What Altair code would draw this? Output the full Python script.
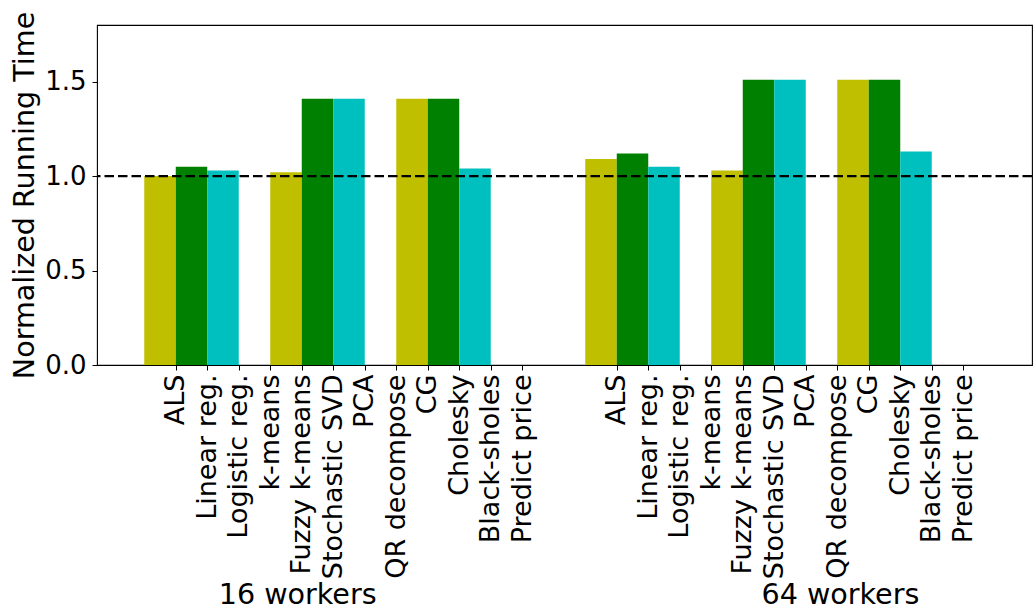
import json

import altair as alt
import pandas as pd

# ---- data -------------------------------------------------------------
benchmarks = [
    "ALS", "Linear reg.", "Logistic reg.", "k-means", "Fuzzy k-means",
    "Stochastic SVD", "PCA", "QR decompose", "CG", "Cholesky",
    "Black-sholes", "Predict price",
]
groups = ["16 workers", "64 workers"]
series = ["Config A", "Config B", "Config C"]
series_colors = ["#bfbf00", "#008000", "#00bfbf"]

# normalized running time, one list of three bars per cluster
times_16 = [[1.00, 1.05, 1.03], [1.02, 1.41, 1.41], [1.41, 1.41, 1.04]]
times_64 = [[1.09, 1.12, 1.05], [1.03, 1.51, 1.51], [1.51, 1.51, 1.13]]
baseline = 1.0

# ---- layout (x measured in bar widths) ---------------------------------
W, H = 935, 340
SLOT = 31.5                      # pixels per bar width
X_MAX = W / SLOT
GROUP_STEP = 14                  # offset between worker groups
CLUSTER_STEP = 4                 # offset between clusters in a group
FIRST_BAR = 1.5
FIRST_TICK = 2.5
GROUP_LABEL_X = [6.37, 23.6]
FONT = "DejaVu Sans"

rows = []
for g, times in enumerate([times_16, times_64]):
    for c, cluster in enumerate(times):
        for s, v in enumerate(cluster):
            x0 = FIRST_BAR + g * GROUP_STEP + c * CLUSTER_STEP + s
            rows.append({"group": groups[g], "series": series[s],
                         "x0": x0, "x1": x0 + 1, "time": v})
bars_df = pd.DataFrame(rows)

tick_values = [FIRST_TICK + g * GROUP_STEP + i
               for g in range(len(groups)) for i in range(len(benchmarks))]
label_expr = f"{json.dumps(benchmarks)}[(datum.value - {FIRST_TICK}) % {GROUP_STEP}]"

x_scale = alt.Scale(domain=[0, X_MAX], nice=False, zero=False)
y_scale = alt.Scale(domain=[0, 1.8], nice=False)

bars = alt.Chart(bars_df).mark_bar(strokeWidth=0).encode(
    x=alt.X("x0:Q", scale=x_scale, axis=alt.Axis(
        values=tick_values, labelExpr=label_expr, title=None,
        labelAngle=270, labelFontSize=27, labelFont=FONT,
        labelColor="black", tickColor="black", tickSize=5, tickWidth=1,
        labelPadding=4, domain=False, grid=False, labelOverlap=False,
        labelBound=False, labelFlush=False, labelLimit=0,
    )),
    x2="x1:Q",
    y=alt.Y("time:Q", scale=y_scale, axis=alt.Axis(
        values=[0, 0.5, 1.0, 1.5], format=".1f", grid=False, domain=False,
        labelFontSize=26, labelFont=FONT, labelColor="black",
        tickColor="black", tickSize=5, tickWidth=1, labelPadding=6,
        title="Normalized Running Time", titleFontSize=28.6, titleFont=FONT,
        titleFontWeight="normal", titleColor="black",
        titleX=-64, titleY=H / 2, titleBaseline="alphabetic",
        titleAlign="center",
    )),
    y2=alt.datum(0),
    color=alt.Color("series:N", scale=alt.Scale(domain=series, range=series_colors),
                    legend=None),
)

ref_line = alt.Chart(pd.DataFrame({"y": [baseline]})).mark_rule(
    color="black", strokeDash=[9.5, 4], strokeWidth=2.4
).encode(y=alt.Y("y:Q", scale=y_scale))

group_labels = alt.Chart(pd.DataFrame({"x": GROUP_LABEL_X, "label": groups})).mark_text(
    font=FONT, fontSize=28.6, color="black", align="center", baseline="alphabetic"
).encode(
    x=alt.X("x:Q", scale=x_scale),
    y=alt.value(578.5),
    text="label:N",
)

chart = alt.layer(bars, ref_line, group_labels).properties(
    width=W, height=H,
    autosize=alt.AutoSizeParams(type="none"),
    padding={"left": 97, "top": 25, "right": 1, "bottom": 612 - 25 - H},
    background="white",
).configure_view(stroke="black", strokeWidth=1.1)

chart.save("out.html", embed_options={"renderer": "svg", "actions": False})
